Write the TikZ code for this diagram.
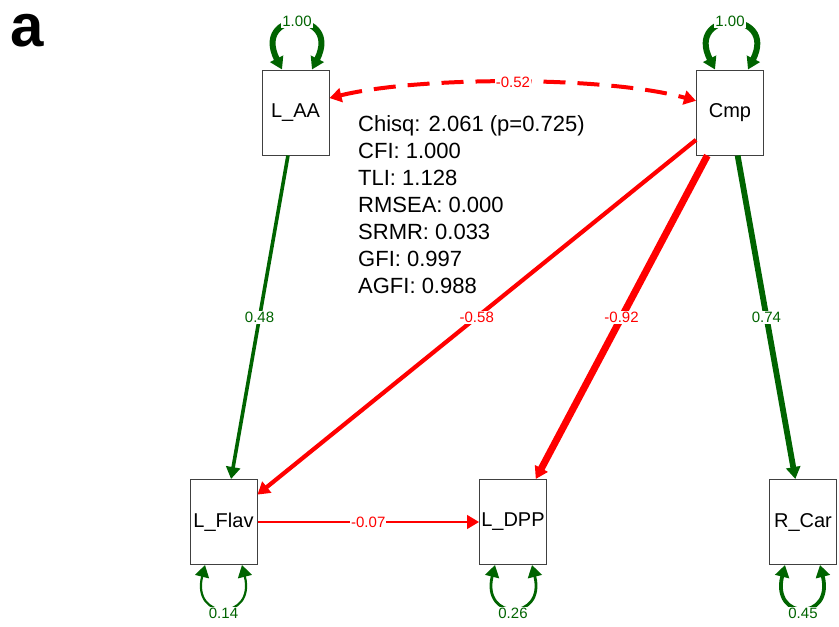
\documentclass[tikz,border=0pt]{standalone}
\usepackage{fontspec}
\setmainfont{Liberation Sans}
\usetikzlibrary{arrows.meta,calc}
\definecolor{sgreen}{RGB}{0,100,0}
\definecolor{sred}{RGB}{255,0,0}
\begin{document}
\begin{tikzpicture}[x=1pt,y=-1pt,
  box/.style={draw=black!75, line width=1pt, minimum width=67pt, minimum height=85pt, inner sep=0pt, font=\fontsize{20}{24}\selectfont},
  lab/.style={fill=white, inner sep=1pt, font=\fontsize{15}{18}\selectfont},
  tip/.style={-{Triangle[length=12pt,width=14pt]}},
  dtip/.style={{Triangle[length=12pt,width=14pt]}-{Triangle[length=12pt,width=14pt]}},
]
\useasboundingbox (0,0) rectangle (839,627);
\node[anchor=base west, inner sep=0pt, font=\fontsize{60}{60}\selectfont\bfseries] (tag) at (10,46) {a};

\node[box] (laa) at (295.5,112.5) {L\_AA};
\node[box] (cmp) at (730,112.5) {Cmp};
\node[box] (lflav) at (223.5,522) {L\_Flav};
\node[box] (ldpp) at (513,522) {L\_DPP};
\node[box] (rcar) at (803,522) {R\_Car};

\node[anchor=north west, inner sep=0pt, align=left, font=\fontsize{22}{27}\selectfont] (fit) at (358,115)
 {Chisq: 2.061 (p=0.725)\\CFI: 1.000\\TLI: 1.128\\RMSEA: 0.000\\SRMR: 0.033\\GFI: 0.997\\AGFI: 0.988};

% directed edges
\draw[sgreen, line width=3.6pt, tip] (laa) -- node[lab, text=sgreen] {0.48} (lflav);
\draw[sred, line width=4.2pt, tip] (cmp) -- node[lab, text=sred] {-0.58} (lflav);
\draw[sred, line width=7pt, tip] (cmp) -- node[lab, text=sred] {-0.92} (ldpp);
\draw[sgreen, line width=5.8pt, tip] (cmp) -- node[lab, text=sgreen] {0.74} (rcar);
\draw[sred, line width=1.3pt, tip] (lflav) -- node[lab, text=sred] {-0.07} (ldpp);

% covariance
\draw[sred, line width=4pt, dash pattern=on 22pt off 12pt, dtip] (laa.23) .. controls (420,76) and (606,76) .. node[lab, text=sred] {-0.52} (cmp.161);

% variances top
\draw[sgreen, line width=6pt, dtip] ($(laa.north)+(-13.5,0)$) .. controls +(-30,-60) and +(30,-60) .. ($(laa.north)+(16.5,0)$);
\node[lab, text=sgreen] (vlaa) at ($(laa.north)+(1.5,-48)$) {1.00};
\draw[sgreen, line width=6pt, dtip] ($(cmp.north)+(-15,0)$) .. controls +(-30,-60) and +(30,-60) .. ($(cmp.north)+(18,0)$);
\node[lab, text=sgreen] (vcmp) at ($(cmp.north)+(0,-48)$) {1.00};

% variances bottom
\draw[sgreen, line width=2.2pt, dtip] ($(lflav.south)+(-18.5,0)$) .. controls +(-14,56) and +(14,56) .. ($(lflav.south)+(18.5,0)$);
\node[lab, text=sgreen] (vlflav) at ($(lflav.south)+(0,48)$) {0.14};
\draw[sgreen, line width=2.8pt, dtip] ($(ldpp.south)+(-18,0)$) .. controls +(-14,56) and +(14,56) .. ($(ldpp.south)+(19,0)$);
\node[lab, text=sgreen] (vldpp) at ($(ldpp.south)+(0,48)$) {0.26};
\draw[sgreen, line width=3.8pt, dtip] ($(rcar.south)+(-18,0)$) .. controls +(-14,56) and +(14,56) .. ($(rcar.south)+(17,0)$);
\node[lab, text=sgreen] (vrcar) at ($(rcar.south)+(0,48)$) {0.45};
\end{tikzpicture}
\end{document}
